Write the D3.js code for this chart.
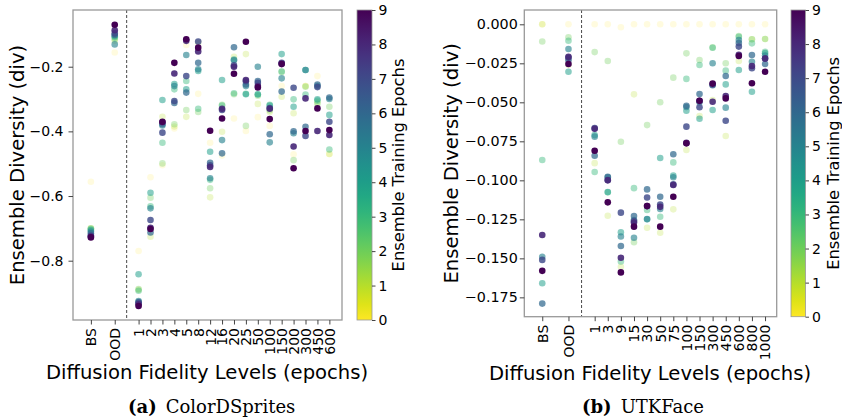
<!DOCTYPE html>
<html>
<head>
<meta charset="utf-8">
<script src="https://cdn.jsdelivr.net/npm/d3@7"></script>
<style>
body{margin:0;background:#fff;}
text{font-family:"DejaVu Sans",sans-serif;fill:#000;}
</style>
</head>
<body>
<svg id="fig" width="842" height="419"></svg>
<script>
// ensemble training epochs (colour value), one point per epoch in each column
var epochs = [0,1,2,3,4,5,6,7,8,9];

// (a) ColorDSprites
var csLevels = ["1","2","3","4","5","8","12","16","20","25","50","100","150","200","300","450","600"];
var csBS  = [-0.556,-0.700,-0.700,-0.702,-0.705,-0.710,-0.715,-0.722,-0.725,-0.728];
var csOOD = [-0.156,-0.120,-0.114,-0.110,-0.106,-0.131,-0.102,-0.097,-0.087,-0.070];
var csDiv = [
  [-0.770,-0.890,-0.888,-0.893,-0.842,-0.925,-0.928,-0.930,-0.935,-0.940],
  [-0.542,-0.726,-0.605,-0.632,-0.590,-0.638,-0.713,-0.674,-0.698,-0.702],
  [-0.505,-0.355,-0.499,-0.435,-0.303,-0.382,-0.378,-0.404,-0.372,-0.370],
  [-0.391,-0.385,-0.378,-0.270,-0.254,-0.260,-0.312,-0.306,-0.221,-0.188],
  [-0.133,-0.355,-0.334,-0.244,-0.270,-0.164,-0.280,-0.229,-0.120,-0.115],
  [-0.284,-0.125,-0.340,-0.330,-0.213,-0.208,-0.188,-0.122,-0.153,-0.141],
  [-0.435,-0.604,-0.576,-0.550,-0.463,-0.545,-0.497,-0.505,-0.510,-0.398],
  [-0.475,-0.401,-0.318,-0.320,-0.241,-0.427,-0.468,-0.334,-0.330,-0.360],
  [-0.360,-0.169,-0.285,-0.282,-0.178,-0.180,-0.140,-0.196,-0.200,-0.222],
  [-0.399,-0.161,-0.383,-0.284,-0.285,-0.260,-0.255,-0.245,-0.241,-0.123],
  [-0.356,-0.315,-0.290,-0.286,-0.285,-0.200,-0.244,-0.250,-0.260,-0.264],
  [-0.383,-0.340,-0.335,-0.318,-0.320,-0.434,-0.409,-0.328,-0.330,-0.362],
  [-0.260,-0.293,-0.216,-0.215,-0.161,-0.236,-0.277,-0.188,-0.190,-0.192],
  [-0.471,-0.344,-0.489,-0.301,-0.324,-0.406,-0.400,-0.265,-0.447,-0.514],
  [-0.260,-0.260,-0.262,-0.286,-0.210,-0.210,-0.386,-0.414,-0.298,-0.399],
  [-0.229,-0.310,-0.315,-0.305,-0.301,-0.260,-0.255,-0.263,-0.399,-0.329],
  [-0.470,-0.470,-0.324,-0.456,-0.349,-0.300,-0.295,-0.370,-0.411,-0.396]
];
var csYTicks = [-0.8,-0.6,-0.4,-0.2];

// (b) UTKFace
var utkLevels = ["1","3","9","15","30","50","75","100","150","300","450","600","800","1000"];
var utkBS  = [0.000,0.000,-0.011,-0.087,-0.166,-0.149,-0.179,-0.151,-0.135,-0.158];
var utkOOD = [0.000,-0.026,-0.0083,-0.0105,-0.0304,-0.0158,-0.023,-0.0215,-0.0208,-0.0254];
var utkDiv = [
  [0.000,-0.0890,-0.0178,-0.0947,-0.0710,-0.0720,-0.0842,-0.0665,-0.0670,-0.0810],
  [0.000,-0.1227,-0.0235,-0.1077,-0.1075,-0.0980,-0.0977,-0.0998,-0.1000,-0.1141],
  [-0.0019,-0.1554,-0.0753,-0.1520,-0.1333,-0.1360,-0.1421,-0.1207,-0.1496,-0.1590],
  [0.000,-0.0449,-0.1397,-0.1050,-0.1255,-0.1368,-0.1229,-0.1260,-0.1270,-0.1297],
  [0.000,-0.1304,-0.0646,-0.1190,-0.1250,-0.1248,-0.1058,-0.1110,-0.1165,-0.1165],
  [0.000,-0.1336,-0.0500,-0.1233,-0.0857,-0.1184,-0.1105,-0.1155,-0.1170,-0.1297],
  [0.000,-0.1186,-0.0342,-0.0885,-0.0970,-0.0980,-0.0833,-0.1026,-0.1030,-0.1105],
  [0.000,-0.0806,-0.0186,-0.0350,-0.0554,-0.0530,-0.0522,-0.0656,-0.0760,-0.0763],
  [0.000,-0.0588,-0.0229,-0.0261,-0.0605,-0.0500,-0.0447,-0.0532,-0.0490,-0.0490],
  [0.000,-0.0485,-0.0148,-0.0150,-0.0549,-0.0250,-0.0390,-0.0385,-0.0496,-0.0380],
  [0.000,-0.0716,-0.0250,-0.0297,-0.0385,-0.0534,-0.0331,-0.0618,-0.0460,-0.0475],
  [0.000,-0.0235,-0.0075,-0.0080,-0.0293,-0.0101,-0.0120,-0.0143,-0.0195,-0.0203],
  [0.000,-0.0096,-0.0096,-0.0122,-0.0432,-0.0240,-0.0197,-0.0282,-0.0267,-0.0378],
  [0.000,-0.0094,-0.0094,-0.0176,-0.0185,-0.0200,-0.0254,-0.0218,-0.0220,-0.0304]
];
var utkYTicks = [-0.175,-0.150,-0.125,-0.100,-0.075,-0.050,-0.025,0.000];

var svg = d3.select("#fig");

//epoch 9 is darkest (viridis_r), low epochs are drawn fainter
function epochColor(e){ return d3.interpolateViridis(1 - e/9); }
function epochAlpha(e){ return 0.15 + 0.85*e/9; }

function drawPanel(p){
  var g = svg.append("g");
  var x = d3.scaleLinear().domain(p.xdom).range([p.left, p.right]);
  var y = d3.scaleLinear().domain(p.ydom).range([p.bottom, p.top]);

  var cats = ["BS","OOD"].concat(p.levels);
  var pos = [-4,-2].concat(p.levels.map(function(d,i){return i;}));
  var rows = [p.bs, p.ood].concat(p.values);

  var pts = [];
  epochs.forEach(function(e){
    rows.forEach(function(r,ci){ pts.push({pos:pos[ci], v:r[e], e:e}); });
  });

  //separator between baselines and fidelity levels
  g.append("line")
    .attr("x1", x(-1)).attr("x2", x(-1))
    .attr("y1", p.top).attr("y2", p.bottom)
    .attr("stroke","#333").attr("stroke-width",0.9).attr("stroke-dasharray","3,2");

  g.selectAll("circle.pt").data(pts).enter().append("circle").classed("pt",true)
    .attr("cx", function(d){return x(d.pos);})
    .attr("cy", function(d){return y(d.v);})
    .attr("r", 3.3)
    .attr("fill", function(d){return epochColor(d.e);})
    .attr("fill-opacity", function(d){return epochAlpha(d.e);});

  g.append("rect")
    .attr("x", p.left).attr("y", p.top)
    .attr("width", p.right - p.left).attr("height", p.bottom - p.top)
    .attr("fill","none").attr("stroke","#999").attr("stroke-width",1.3);

  //x axis, rotated category labels
  var xa = g.append("g").attr("transform","translate(0,"+p.bottom+")")
    .call(d3.axisBottom(x).tickValues(pos).tickFormat(function(d,i){return cats[i];}).tickSize(4.5));
  xa.select(".domain").remove();
  xa.selectAll(".tick line").attr("stroke","#444");
  xa.selectAll(".tick text")
    .attr("transform","rotate(-90)")
    .attr("x", -8).attr("y", 0).attr("dy","0.35em")
    .attr("text-anchor","end")
    .style("font-size","14px");

  var ya = g.append("g").attr("transform","translate("+p.left+",0)")
    .call(d3.axisLeft(y).tickValues(p.yticks).tickFormat(d3.format(p.yfmt)).tickSize(4.5).tickPadding(p.ypad));
  ya.select(".domain").remove();
  ya.selectAll(".tick line").attr("stroke","#444");
  ya.selectAll(".tick text").style("font-size", p.yfont+"px");

  g.append("text")
    .attr("transform","translate("+p.ylabx+","+((p.top+p.bottom)/2)+") rotate(-90)")
    .attr("text-anchor","middle").attr("dy","0.35em")
    .style("font-size","19.6px")
    .text("Ensemble Diversity (div)");

  g.append("text")
    .attr("x", p.xlabx).attr("y", p.xlaby)
    .attr("text-anchor","middle")
    .style("font-size","19.6px")
    .text("Diffusion Fidelity Levels (epochs)");

  //colorbar
  var gid = "grad" + p.id;
  var grad = svg.append("defs").append("linearGradient").attr("id", gid)
    .attr("x1","0").attr("y1","1").attr("x2","0").attr("y2","0");
  d3.range(0, 1.0001, 0.05).forEach(function(t){
    grad.append("stop").attr("offset", t).attr("stop-color", d3.interpolateViridis(1 - t));
  });
  g.append("rect")
    .attr("x", p.cbx).attr("y", p.top).attr("width", p.cbw).attr("height", p.bottom - p.top)
    .attr("fill","url(#"+gid+")").attr("stroke","#999").attr("stroke-width",0.8);

  var cs = d3.scaleLinear().domain([0,9]).range([p.bottom, p.top]);
  var ca = g.append("g").attr("transform","translate("+(p.cbx+p.cbw)+",0)")
    .call(d3.axisRight(cs).tickValues(epochs).tickSize(3.5).tickPadding(3));
  ca.select(".domain").remove();
  ca.selectAll(".tick line").attr("stroke","#444");
  ca.selectAll(".tick text").style("font-size","14px");

  g.append("text")
    .attr("transform","translate("+p.cblabx+","+((p.top+p.bottom)/2)+") rotate(-90)")
    .attr("text-anchor","middle").attr("dy","0.35em")
    .style("font-size","16.3px")
    .text("Ensemble Training Epochs");

  //sub-caption
  var cap = g.append("text").attr("x", p.capx).attr("y", 413)
    .style("font-family","'DejaVu Serif',serif").style("font-size","18px");
  cap.append("tspan").style("font-weight","bold").text(p.tag);
  cap.append("tspan").attr("dx", 9).text(p.name);
}

drawPanel({
  id:"a", levels:csLevels, bs:csBS, ood:csOOD, values:csDiv,
  xdom:[-5.5, 17.06], ydom:[-0.9834, -0.0246],
  left:73, right:342, top:10, bottom:320,
  yticks:csYTicks, yfmt:".1f", yfont:14, ypad:5,
  ylabx:17, xlabx:207, xlaby:379,
  cbx:357, cbw:15, cblabx:398,
  capx:128, tag:"(a)", name:"ColorDSprites"
});

drawPanel({
  id:"b", levels:utkLevels, bs:utkBS, ood:utkOOD, values:utkDiv,
  xdom:[-5.37, 13.89], ydom:[-0.1874, 0.00917],
  left:524.3, right:776.7, top:10, bottom:316.7,
  yticks:utkYTicks, yfmt:".3f", yfont:14.3, ypad:2,
  ylabx:451, xlabx:650, xlaby:380,
  cbx:791, cbw:14.5, cblabx:833,
  capx:582, tag:"(b)", name:"UTKFace"
});
</script>
</body>
</html>
